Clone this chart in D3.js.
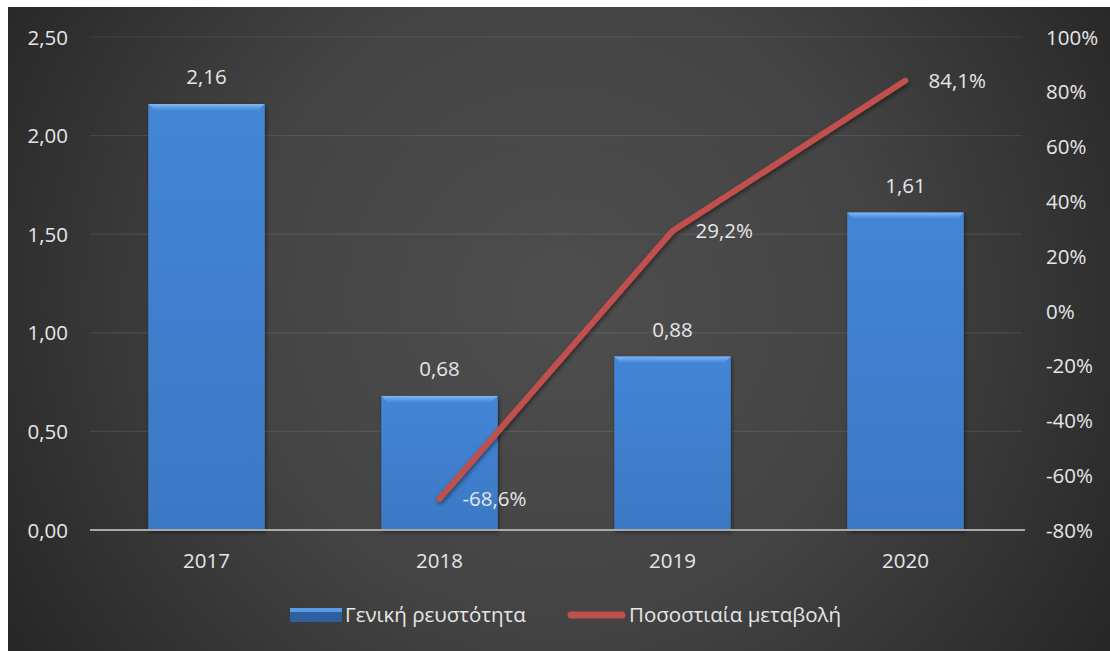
<!DOCTYPE html>
<html>
<head>
<meta charset="utf-8">
<script src="https://cdn.jsdelivr.net/npm/d3@7"></script>
<style>
  html, body { margin: 0; padding: 0; background: #ffffff; }
  svg { display: block; }
  text { font-family: "Open Sans", "Noto Sans", sans-serif; }
</style>
</head>
<body>
<script>
// Chart data
const years = ["2017", "2018", "2019", "2020"];
const liquidity = [2.16, 0.68, 0.88, 1.61];           // Γενική ρευστότητα
const changeYears = ["2018", "2019", "2020"];
const change = [-68.6, 29.2, 84.1];                    // Ποσοστιαία μεταβολή (%)
const leftTicks = [0, 0.5, 1.0, 1.5, 2.0, 2.5];
const rightTicks = [-80, -60, -40, -20, 0, 20, 40, 60, 80, 100];
const seriesNames = ["Γενική ρευστότητα", "Ποσοστιαία μεταβολή"];

const W = 1110, H = 651;
const margin = { left: 90, right: 88, top: 37, bottom: 121 };
const FS = 20.5;      // all chart text
const fmt2 = d => d.toFixed(2).replace(".", ",");
const fmtPct1 = d => d.toFixed(1).replace(".", ",") + "%";

const svg = d3.select("body").append("svg").attr("width", W).attr("height", H);
const defs = svg.append("defs");

// Dark radial background
const bg = defs.append("radialGradient").attr("id", "bg")
  .attr("gradientUnits", "userSpaceOnUse")
  .attr("cx", 560).attr("cy", 300).attr("r", 700);
bg.append("stop").attr("offset", "0%").attr("stop-color", "#4e4e4e");
bg.append("stop").attr("offset", "45%").attr("stop-color", "#444444");
bg.append("stop").attr("offset", "100%").attr("stop-color", "#222222");

const barGrad = defs.append("linearGradient").attr("id", "barGrad")
  .attr("x1", 0).attr("x2", 0).attr("y1", 0).attr("y2", 1);
barGrad.append("stop").attr("offset", "0%").attr("stop-color", "#4386d6");
barGrad.append("stop").attr("offset", "100%").attr("stop-color", "#3b78c4");

const bevel = defs.append("linearGradient").attr("id", "bevel")
  .attr("x1", 0).attr("x2", 0).attr("y1", 0).attr("y2", 1);
bevel.append("stop").attr("offset", "0%").attr("stop-color", "#7fb6f5");
bevel.append("stop").attr("offset", "100%").attr("stop-color", "#4a8ad8");

const shadow = defs.append("filter").attr("id", "shadow")
  .attr("x", "-20%").attr("y", "-20%").attr("width", "140%").attr("height", "140%");
shadow.append("feDropShadow").attr("dx", 1).attr("dy", 2).attr("stdDeviation", 2)
  .attr("flood-color", "#000").attr("flood-opacity", 0.5);

svg.append("rect").attr("x", 8).attr("y", 7).attr("width", W - 8).attr("height", H - 7)
  .attr("fill", "url(#bg)");

const x = d3.scaleBand().domain(years).range([margin.left, W - margin.right]).paddingInner(0.5).paddingOuter(0.25);
const yL = d3.scaleLinear().domain([0, 2.5]).range([H - margin.bottom, margin.top]);
const yR = d3.scaleLinear().domain([-80, 100]).range([H - margin.bottom, margin.top]);

// Gridlines
svg.append("g").selectAll("line").data(leftTicks.slice(1)).join("line")
  .attr("x1", margin.left).attr("x2", W - margin.right)
  .attr("y1", d => yL(d)).attr("y2", d => yL(d))
  .attr("stroke", "rgba(255,255,255,0.09)").attr("stroke-width", 1.2);

// Left axis
const axL = svg.append("g").attr("transform", `translate(${margin.left - 19},0)`)
  .call(d3.axisLeft(yL).tickValues(leftTicks).tickFormat(fmt2).tickSize(0));
axL.select(".domain").remove();
axL.selectAll("text").attr("fill", "#e6e6e6").attr("font-size", FS).attr("dx", 0).attr("dy", "0.35em");

// Right axis
const axR = svg.append("g").attr("transform", `translate(${W - margin.right + 21},0)`)
  .call(d3.axisRight(yR).tickValues(rightTicks).tickFormat(d => d + "%").tickSize(0));
axR.select(".domain").remove();
axR.selectAll("text").attr("fill", "#e6e6e6").attr("font-size", FS).attr("dx", 0).attr("dy", "0.35em");

// Bars
const bars = svg.append("g").selectAll("g").data(years).join("g");
bars.append("rect")
  .attr("x", d => x(d)).attr("width", x.bandwidth())
  .attr("y", (d, i) => yL(liquidity[i]))
  .attr("height", (d, i) => yL(0) - yL(liquidity[i]))
  .attr("fill", "url(#barGrad)").attr("filter", "url(#shadow)");
bars.append("path")
  .attr("d", (d, i) => {
    const x0 = x(d), x1 = x(d) + x.bandwidth(), y0 = yL(liquidity[i]);
    return `M${x0},${y0}H${x1}L${x1 - 6},${y0 + 6}H${x0 + 6}Z`;
  })
  .attr("fill", "url(#bevel)");
bars.append("text")
  .attr("x", d => x(d) + x.bandwidth() / 2)
  .attr("y", (d, i) => yL(liquidity[i]) - 27)
  .attr("dy", "0.35em").attr("text-anchor", "middle")
  .attr("fill", "#e6e6e6").attr("font-size", FS)
  .text((d, i) => fmt2(liquidity[i]));

// Axis base line
svg.append("line")
  .attr("x1", margin.left).attr("x2", W - margin.right + 3)
  .attr("y1", yL(0)).attr("y2", yL(0))
  .attr("stroke", "#a9a9a9").attr("stroke-width", 2);

// Category labels
svg.append("g").selectAll("text").data(years).join("text")
  .attr("x", d => x(d) + x.bandwidth() / 2).attr("y", yL(0) + 31)
  .attr("dy", "0.35em").attr("text-anchor", "middle")
  .attr("fill", "#e6e6e6").attr("font-size", FS).text(d => d);

// Percentage change line
const lineData = changeYears.map((d, i) => ({ year: d, v: change[i] }));
const line = d3.line().x(d => x(d.year) + x.bandwidth() / 2).y(d => yR(d.v));
svg.append("path").datum(lineData)
  .attr("d", line).attr("fill", "none")
  .attr("stroke", "#c0504d").attr("stroke-width", 6)
  .attr("stroke-linecap", "round").attr("stroke-linejoin", "round")
  .attr("filter", "url(#shadow)");
svg.append("g").selectAll("text").data(lineData).join("text")
  .attr("x", d => x(d.year) + x.bandwidth() / 2 + 23)
  .attr("y", d => yR(d.v))
  .attr("dy", "0.35em")
  .attr("fill", "#e6e6e6").attr("font-size", FS)
  .text(d => fmtPct1(d.v));

// Legend
const lg = svg.append("g");
lg.append("rect").attr("x", 290).attr("y", 608).attr("width", 52).attr("height", 14).attr("fill", "#2f5f9c");
lg.append("rect").attr("x", 290).attr("y", 608).attr("width", 52).attr("height", 4).attr("fill", "#5a9be8");
lg.append("text").attr("x", 345).attr("y", 615).attr("dy", "0.35em")
  .attr("fill", "#e6e6e6").attr("font-size", FS).text(seriesNames[0]);
lg.append("line").attr("x1", 571).attr("x2", 622).attr("y1", 615).attr("y2", 615)
  .attr("stroke", "#c0504d").attr("stroke-width", 7).attr("stroke-linecap", "round");
lg.append("text").attr("x", 629).attr("y", 615).attr("dy", "0.35em")
  .attr("fill", "#e6e6e6").attr("font-size", FS).text(seriesNames[1]);
</script>
</body>
</html>
